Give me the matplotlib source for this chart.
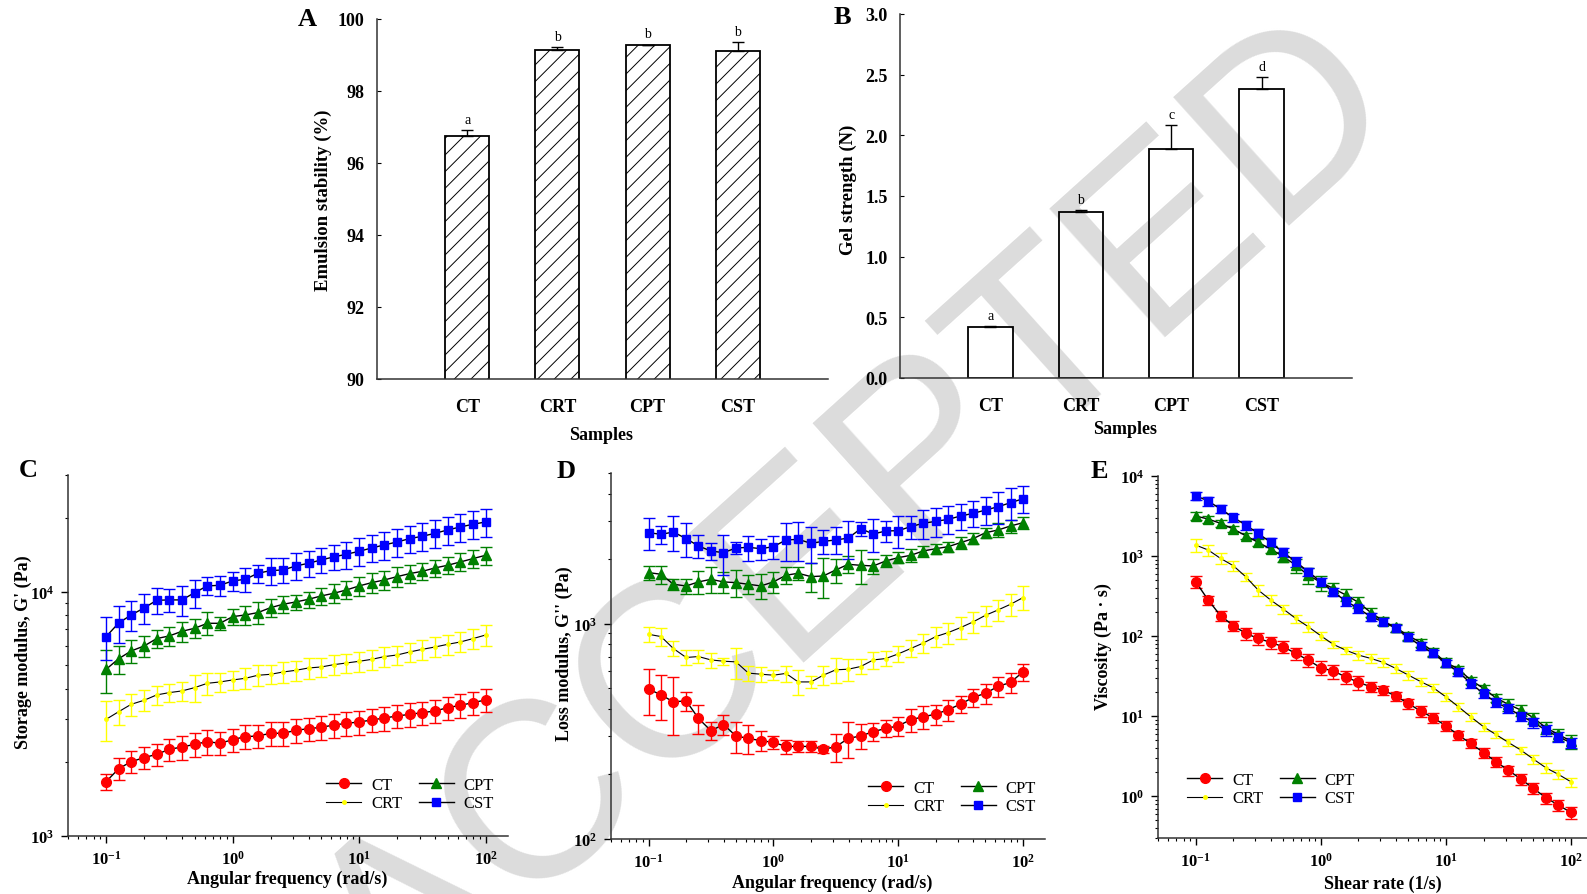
import matplotlib
matplotlib.use("Agg")
import matplotlib.pyplot as plt
import numpy as np
from matplotlib.ticker import FixedLocator, FixedFormatter, LogLocator, NullFormatter

W, H = 1587, 895

# ---- panels A and B (bar charts) ----
samples = ["CT", "CRT", "CPT", "CST"]
emulsion = [96.75, 99.15, 99.27, 99.10]
emulsion_err = [0.17, 0.06, 0.02, 0.25]
emulsion_sig = ["a", "b", "b", "b"]
gel = [0.418, 1.366, 1.887, 2.385]
gel_err = [0.012, 0.019, 0.198, 0.098]
gel_sig = ["a", "b", "c", "d"]

# ---- panels C, D, E (rheology) ----
freq = [0.1, 0.126, 0.158, 0.2, 0.251, 0.316, 0.398, 0.501, 0.631, 0.794,
        1.0, 1.26, 1.58, 2.0, 2.51, 3.16, 3.98, 5.01, 6.31, 7.94,
        10, 12.6, 15.8, 20, 25.1, 31.6, 39.8, 50.1, 63.1, 79.4, 100]

g1_ct = [1669, 1887, 2015, 2093, 2159, 2263, 2313, 2372, 2433, 2395, 2479, 2550, 2566, 2632, 2632,
         2707, 2749, 2784, 2846, 2891, 2928, 2983, 3040, 3098, 3147, 3197, 3248, 3351, 3426, 3513, 3604]
g1_crt = [3002, 3228, 3459, 3593, 3778, 3861, 3923, 4047, 4215, 4269, 4350, 4419, 4546, 4589, 4691,
          4764, 4870, 4916, 5025, 5105, 5186, 5284, 5420, 5506, 5664, 5807, 5935, 6086, 6223, 6424, 6646]
g1_cpt = [4810, 5318, 5717, 5993, 6424, 6587, 6882, 7079, 7419, 7419, 7900, 8026, 8204, 8600, 8877,
          9073, 9303, 9600, 9845, 10160, 10550, 10885, 11160, 11520, 11850, 12110, 12500, 12820, 13225, 13650, 14085]
g1_cst = [6546, 7447, 8026, 8575, 9216, 9247, 9247, 9907, 10550, 10615, 11060, 11230, 11885, 12190, 12265,
          12735, 13060, 13480, 13870, 14220, 14625, 15090, 15525, 15970, 16480, 16845, 17325, 17880, 18395, 18860, 19280]
g1_ct_err = [120, 200, 210, 220, 220, 240, 260, 260, 280, 260, 270, 290, 280, 300, 290, 300, 300, 310,
             320, 320, 330, 330, 340, 340, 350, 350, 360, 370, 380, 380, 390]
g1_crt_err = [550, 380, 350, 350, 330, 340, 340, 500, 440, 380, 400, 430, 440, 420, 450, 450, 460, 450,
              460, 470, 480, 490, 500, 500, 520, 540, 560, 570, 580, 610, 640]
g1_cpt_err = [950, 700, 600, 580, 560, 580, 650, 620, 800, 450, 580, 700, 860, 700, 700, 650, 700, 750,
              850, 850, 950, 1000, 1000, 1050, 1000, 1000, 1000, 1050, 1100, 1200, 1200]
g1_cst_err = [1300, 1300, 1100, 1200, 1100, 1000, 1300, 1300, 900, 1000, 1000, 1300, 1000, 1500, 1400,
              1600, 1600, 1600, 1600, 1800, 1900, 1900, 2000, 2100, 2100, 2200, 2300, 2300, 2400, 2500, 2600]

g2_ct = [496, 467, 433, 438, 363, 318, 340, 301, 293, 286, 281, 269, 269, 269, 261, 268,
         293, 301, 315, 326, 335, 358, 369, 380, 398, 423, 454, 475, 511, 533, 597]
g2_crt = [892, 870, 766, 696, 703, 678, 669, 664, 589, 582, 576, 587, 536, 536, 576, 610,
          614, 632, 678, 688, 723, 766, 811, 870, 908, 958, 1018, 1093, 1157, 1229, 1320]
g2_cpt = [1724, 1694, 1522, 1495, 1561, 1605, 1561, 1549, 1522, 1495, 1561, 1676, 1712, 1652, 1663, 1774,
          1884, 1864, 1851, 1953, 2023, 2074, 2172, 2227, 2275, 2375, 2479, 2642, 2719, 2838, 2940]
g2_cst = [2642, 2596, 2661, 2479, 2292, 2172, 2134, 2243, 2259, 2227, 2275, 2443, 2461, 2358, 2409, 2443,
          2495, 2757, 2605, 2690, 2700, 2818, 2920, 2983, 3047, 3157, 3248, 3365, 3487, 3639, 3798]
g2_ct_err = [120, 110, 130, 45, 55, 30, 35, 50, 45, 30, 20, 20, 15, 15, 10, 40, 55, 40, 30, 30, 35,
             45, 45, 40, 45, 40, 45, 50, 55, 55, 55]
g2_crt_err = [70, 80, 60, 55, 50, 55, 25, 110, 45, 45, 30, 50, 70, 35, 60, 80, 70, 50, 60, 55, 60,
              70, 80, 90, 100, 110, 110, 120, 130, 150, 170]
g2_cpt_err = [130, 160, 90, 120, 190, 220, 170, 220, 150, 200, 180, 150, 120, 250, 350, 230, 170, 330,
              150, 130, 120, 140, 130, 120, 120, 160, 140, 150, 200, 200, 200]
g2_cst_err = [450, 250, 500, 450, 280, 200, 450, 150, 300, 250, 280, 500, 500, 450, 300, 350, 500, 200,
              450, 300, 450, 350, 450, 450, 450, 450, 450, 500, 600, 600, 550]

eta_ct = [478, 282, 180, 135, 108, 93.5, 83.3, 73.6, 60.7, 50.1, 40.2, 36.5, 31.0, 26.4, 23.3, 21.1,
          17.8, 14.4, 11.5, 9.53, 7.57, 5.79, 4.55, 3.51, 2.69, 2.11, 1.63, 1.25, 0.953, 0.772, 0.625]
eta_crt = [1372, 1189, 935, 757, 552, 376, 282, 218, 166, 131, 101, 78.7, 66.8, 57.9, 52.6, 46.9,
           39.4, 32.6, 26.9, 22.6, 17.4, 13.1, 9.81, 7.36, 5.90, 4.69, 3.76, 2.90, 2.26, 1.87, 1.51]
eta_cpt = [3162, 2900, 2561, 2175, 1796, 1482, 1223, 985, 770, 575, 470, 394, 327, 264, 197, 154,
           128, 101, 83, 63.6, 46.9, 38.7, 28.2, 22.2, 16.9, 14.0, 11.9, 9.53, 7.14, 5.9, 4.86]
eta_cst = [5675, 4870, 3868, 3043, 2441, 1920, 1482, 1111, 850, 637, 478, 358, 274, 222, 174, 151,
           125, 96.2, 75.7, 60.7, 45.5, 35.8, 25.6, 19.2, 14.8, 12.5, 10.1, 8.33, 6.68, 5.52, 4.64]
eta_ct_err = [80, 35, 25, 20, 18, 16, 15, 13, 11, 9, 8, 7, 5.5, 5, 3.5, 3, 2.5, 2, 1.7, 1.3, 1, 0.8,
              0.6, 0.5, 0.4, 0.3, 0.27, 0.2, 0.15, 0.12, 0.1]
eta_crt_err = [250, 180, 150, 110, 70, 55, 40, 30, 20, 18, 12, 8, 7, 8, 7, 6, 5, 4, 3, 2.5, 2, 1.5,
               1, 0.8, 0.6, 0.5, 0.4, 0.35, 0.3, 0.25, 0.2]
eta_cpt_err = [350, 280, 250, 200, 170, 150, 130, 140, 160, 130, 100, 70, 55, 40, 25, 18, 15, 12, 10,
               7, 6, 4, 3, 2.5, 2, 2.5, 2, 1.5, 1.2, 1.0, 1.0]
eta_cst_err = [700, 600, 450, 350, 300, 230, 180, 150, 120, 80, 60, 45, 35, 25, 18, 15, 12, 10, 8, 6,
               5, 4, 3, 2.2, 1.8, 1.5, 1.3, 1.2, 1.0, 0.8, 0.7]

plt.rcParams["font.family"] = "Liberation Serif"
plt.rcParams["mathtext.fontset"] = "custom"
plt.rcParams["mathtext.rm"] = "Liberation Serif"
plt.rcParams["mathtext.bf"] = "Liberation Serif:bold"
plt.rcParams["hatch.linewidth"] = 0.7

fig = plt.figure(figsize=(W / 100, H / 100), dpi=100)


def rect(l, t, r, b):
    return [l / W, 1 - b / H, (r - l) / W, (b - t) / H]


def place_labels(ax, xl, yl):
    # label centres given in figure pixels
    bb = ax.get_position()
    ax.xaxis.set_label_coords((xl[0] / W - bb.x0) / bb.width, ((1 - xl[1] / H) - bb.y0) / bb.height)
    ax.yaxis.set_label_coords((yl[0] / W - bb.x0) / bb.width, ((1 - yl[1] / H) - bb.y0) / bb.height)
    ax.xaxis.label.set_va("center")
    ax.yaxis.label.set_va("center")


def bar_panel(ax, vals, errs, sig, ylim, yticks, fmt, ylabel, hatch):
    x = np.arange(1, len(vals) + 1)
    ax.bar(x, vals, width=0.49, color="none", edgecolor="black", linewidth=1.3, hatch=hatch)
    ax.errorbar(x, vals, yerr=[np.zeros(len(errs)), errs], fmt="none", ecolor="black",
                elinewidth=1, capsize=4.3, capthick=1)
    for xi, v, e, s in zip(x, vals, errs, sig):
        ax.annotate(s, (xi, v + e), xytext=(0, 3), textcoords="offset points",
                    ha="center", va="bottom", fontsize=10)
    ax.set_xlim(0, 5)
    ax.set_ylim(*ylim)
    ax.set_yticks(yticks)
    ax.set_yticklabels([fmt.format(t) for t in yticks], fontweight="bold", fontsize=13)
    ax.set_xticks(x)
    ax.set_xticklabels(samples, fontweight="bold", fontsize=13)
    ax.tick_params(axis="x", length=0, pad=14)
    ax.tick_params(axis="y", direction="in", length=3, pad=9)
    for s in ["top", "right"]:
        ax.spines[s].set_visible(False)
    for s in ["left", "bottom"]:
        ax.spines[s].set_linewidth(1.1)
        ax.spines[s].set_color("#333333")
    ax.set_xlabel("Samples", fontweight="bold", fontsize=13)
    ax.set_ylabel(ylabel, fontweight="bold", fontsize=13.5)
    ax.set_facecolor("none")


def sup(e):
    return r"$\mathbf{10^{%d}}$" % e


def rheo_panel(ax, series, ylim, ydec, xlabel, ylabel):
    for y, e, col, mk, ms, lw in series:
        ax.errorbar(freq, y, yerr=e, fmt="none", ecolor=col, elinewidth=1, capsize=4.3, capthick=1)
    for (y, e, col, mk, ms, lw), name in zip(series, samples):
        ax.plot(freq, y, color="black", lw=lw, marker=mk, ms=ms, mfc=col, mec=col, label=name)
    ax.set_xscale("log")
    ax.set_yscale("log")
    ax.set_xlim(0.05, 150)
    ax.set_ylim(*ylim)
    ax.xaxis.set_major_locator(FixedLocator([0.1, 1, 10, 100]))
    ax.xaxis.set_major_formatter(FixedFormatter([sup(-1), sup(0), sup(1), sup(2)]))
    ax.yaxis.set_major_locator(FixedLocator([10.0 ** d for d in ydec]))
    ax.yaxis.set_major_formatter(FixedFormatter([sup(d) for d in ydec]))
    for a in (ax.xaxis, ax.yaxis):
        a.set_minor_locator(LogLocator(base=10, subs=np.arange(2, 10), numticks=30))
        a.set_minor_formatter(NullFormatter())
    ax.tick_params(which="major", direction="out", length=5, width=1, labelsize=12, pad=5)
    ax.tick_params(which="minor", direction="out", length=2.5, width=0.8)
    for s in ["top", "right"]:
        ax.spines[s].set_visible(False)
    for s in ["left", "bottom"]:
        ax.spines[s].set_linewidth(1.1)
        ax.spines[s].set_color("#333333")
    ax.set_xlabel(xlabel, fontweight="bold", fontsize=13)
    ax.set_ylabel(ylabel, fontweight="bold", fontsize=13)
    ax.set_facecolor("none")


def add_legend(ax, px, py):
    ax.legend(loc="upper left", bbox_to_anchor=(px / W, 1 - py / H), bbox_transform=fig.transFigure,
              ncol=2, frameon=False, fontsize=12, handlelength=2.1, handletextpad=0.6,
              columnspacing=1.0, labelspacing=0.15, borderpad=0, borderaxespad=0)


axA = fig.add_axes(rect(377, 20, 828, 380))
bar_panel(axA, emulsion, emulsion_err, emulsion_sig, (90, 100), [90, 92, 94, 96, 98, 100], "{:.0f}",
          "Emulsion stability (%)", "//")
place_labels(axA, (601, 436), (323, 200))

axB = fig.add_axes(rect(900, 15, 1352, 379))
bar_panel(axB, gel, gel_err, gel_sig, (0, 3.0), [0, 0.5, 1.0, 1.5, 2.0, 2.5, 3.0], "{:.1f}",
          "Gel strength (N)", None)
place_labels(axB, (1125, 430), (848, 190))

def styles(a, b, c, d, ea, eb, ec, ed):
    return [(a, ea, "#ff0000", "o", 7, 1.0), (b, eb, "#ffff00", "o", 2.5, 0.8),
            (c, ec, "#008000", "^", 7, 1.0), (d, ed, "#0000ff", "s", 6.2, 1.0)]

axC = fig.add_axes(rect(68, 476, 508, 837))
rheo_panel(axC, styles(g1_ct, g1_crt, g1_cpt, g1_cst, g1_ct_err, g1_crt_err, g1_cpt_err, g1_cst_err),
           (1e3, 3e4), [3, 4], "Angular frequency (rad/s)", "Storage modulus, G' (Pa)")
place_labels(axC, (287, 879), (23, 652))
add_legend(axC, 326, 778)

axD = fig.add_axes(rect(611, 474, 1045, 840))
rheo_panel(axD, styles(g2_ct, g2_crt, g2_cpt, g2_cst, g2_ct_err, g2_crt_err, g2_cpt_err, g2_cst_err),
           (1e2, 5e3), [2, 3], "Angular frequency (rad/s)", "Loss modulus, G'' (Pa)")
place_labels(axD, (832, 883), (564, 654))
add_legend(axD, 868, 781)

axE = fig.add_axes(rect(1158, 477, 1593, 839))
rheo_panel(axE, styles(eta_ct, eta_crt, eta_cpt, eta_cst, eta_ct_err, eta_crt_err, eta_cpt_err, eta_cst_err),
           (0.3, 1e4), [0, 1, 2, 3, 4], "Shear rate (1/s)", "Viscosity (Pa \u00b7 s)")
place_labels(axE, (1383, 884), (1103, 647))
add_legend(axE, 1187, 773)

for letter, px, py in [("A", 307, 19), ("B", 842, 18), ("C", 28, 471), ("D", 566, 472), ("E", 1099, 472)]:
    fig.text(px / W, 1 - py / H, letter, fontsize=19, fontweight="bold", ha="center", va="center")

# watermark behind everything
fig.text(860 / W, 1 - 525 / H, "ACCEPTED", fontsize=180, color="#dcdcdc", rotation=42,
         ha="center", va="center", rotation_mode="anchor", family="Liberation Sans", zorder=-1)

fig.savefig("out.png", dpi=100)
